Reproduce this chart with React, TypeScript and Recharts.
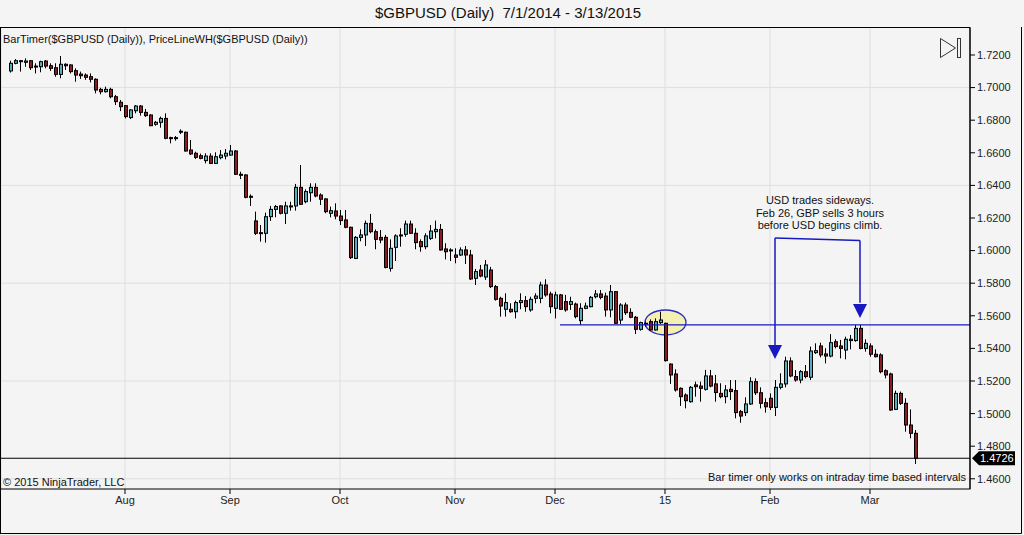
import React from "react";
import {
    ComposedChart,
    Bar,
    XAxis,
    YAxis,
    CartesianGrid,
    ReferenceLine,
    ReferenceDot
} from "recharts";

// daily GBPUSD bars, 7/1/2014 - 3/13/2015
const opens = [
    1.7102, 1.7149, 1.7165, 1.7155, 1.7165, 1.7132, 1.7128, 1.7163, 1.7134, 1.7122, 1.7081, 1.7143, 1.7139, 1.7104, 1.7083, 1.7077, 1.7067, 1.7051, 1.6989, 1.6975, 1.6989, 1.6944, 1.6910,
    1.6889, 1.6816, 1.6858, 1.6887, 1.6848, 1.6832, 1.6775, 1.6787, 1.6811, 1.6693, 1.6689, 1.6730, 1.6726, 1.6617, 1.6597, 1.6582, 1.6552, 1.6580, 1.6535, 1.6570, 1.6580,
    1.6586, 1.6611, 1.6468, 1.6464, 1.6333, 1.6182, 1.6110, 1.6106, 1.6208, 1.6253, 1.6274, 1.6229, 1.6274, 1.6274, 1.6388, 1.6300, 1.6355, 1.6388, 1.6341, 1.6317, 1.6229, 1.6243,
    1.6212, 1.6188, 1.6143, 1.5952, 1.6081, 1.6096, 1.6167, 1.6116, 1.6081, 1.6081, 1.5891, 1.6020, 1.6096, 1.6100, 1.6163, 1.6106, 1.6055, 1.6024, 1.6075, 1.6116, 1.6130, 1.6010, 1.6004,
    1.5973, 1.5973, 1.6004, 1.5973, 1.5830, 1.5881, 1.5838, 1.5881, 1.5779, 1.5707, 1.5640, 1.5640, 1.5625, 1.5681, 1.5693, 1.5636, 1.5707, 1.5707, 1.5789, 1.5734,
    1.5646, 1.5728, 1.5687, 1.5670, 1.5672, 1.5570, 1.5646, 1.5656, 1.5717, 1.5734, 1.5721, 1.5636, 1.5748, 1.5574, 1.5666, 1.5621, 1.5591, 1.5517, 1.5554, 1.5564, 1.5513, 1.5558,
    1.5554, 1.5304, 1.5243, 1.5155, 1.5114, 1.5073, 1.5176, 1.5169, 1.5149, 1.5231, 1.5182, 1.5124, 1.5104, 1.5149, 1.5141, 1.5012, 1.5006, 1.5059, 1.5196, 1.5128, 1.5067,
    1.5094, 1.5038, 1.5161, 1.5182, 1.5323, 1.5227, 1.5206, 1.5257, 1.5223, 1.5374, 1.5415, 1.5366, 1.5353, 1.5441, 1.5415, 1.5390, 1.5448, 1.5448, 1.5523, 1.5400,
    1.5415, 1.5364, 1.5360, 1.5263, 1.5243, 1.5026, 1.5124, 1.5063, 1.4930, 1.4879
];
const highs = [
    1.7165, 1.7175, 1.7169, 1.7179, 1.7169, 1.7149, 1.7165, 1.7169, 1.7149, 1.7149, 1.7194, 1.7149, 1.7143, 1.7118, 1.7098, 1.7087, 1.7087, 1.7057, 1.6999, 1.7006, 1.6999, 1.6955, 1.6924,
    1.6893, 1.6867, 1.6893, 1.6893, 1.6869, 1.6836, 1.6795, 1.6822, 1.6842, 1.6699, 1.6703, 1.6744, 1.6730, 1.6679, 1.6607, 1.6595, 1.6597, 1.6597, 1.6603, 1.6617, 1.6623,
    1.6648, 1.6617, 1.6484, 1.6468, 1.6345, 1.6239, 1.6157, 1.6233, 1.6274, 1.6280, 1.6278, 1.6300, 1.6300, 1.6409, 1.6525, 1.6376, 1.6413, 1.6413, 1.6351, 1.6321, 1.6270, 1.6290,
    1.6249, 1.6249, 1.6147, 1.6089, 1.6131, 1.6184, 1.6225, 1.6130, 1.6126, 1.6096, 1.6069, 1.6100, 1.6137, 1.6184, 1.6184, 1.6137, 1.6069, 1.6106, 1.6157, 1.6184, 1.6163, 1.6045, 1.6014,
    1.6014, 1.6020, 1.6028, 1.6004, 1.5887, 1.5912, 1.5942, 1.5900, 1.5789, 1.5717, 1.5738, 1.5677, 1.5693, 1.5738, 1.5721, 1.5717, 1.5738, 1.5809, 1.5824, 1.5748,
    1.5748, 1.5734, 1.5728, 1.5717, 1.5681, 1.5677, 1.5681, 1.5721, 1.5758, 1.5758, 1.5742, 1.5789, 1.5752, 1.5677, 1.5681, 1.5646, 1.5599, 1.5564, 1.5564, 1.5578, 1.5584, 1.5625,
    1.5558, 1.5308, 1.5272, 1.5161, 1.5124, 1.5169, 1.5196, 1.5196, 1.5268, 1.5268, 1.5237, 1.5186, 1.5175, 1.5206, 1.5206, 1.5022, 1.5100, 1.5223, 1.5216, 1.5161, 1.5094,
    1.5124, 1.5206, 1.5247, 1.5349, 1.5345, 1.5267, 1.5267, 1.5298, 1.5411, 1.5431, 1.5435, 1.5401, 1.5488, 1.5456, 1.5452, 1.5472, 1.5482, 1.5544, 1.5544, 1.5456,
    1.5431, 1.5394, 1.5370, 1.5272, 1.5251, 1.5141, 1.5135, 1.5094, 1.5026, 1.4899
];
const lows = [
    1.7092, 1.7143, 1.7098, 1.7128, 1.7108, 1.7087, 1.7094, 1.7118, 1.7102, 1.7067, 1.7057, 1.7108, 1.7087, 1.7036, 1.7053, 1.7047, 1.7032, 1.6965, 1.6959, 1.6969, 1.6934, 1.6893, 1.6856,
    1.6811, 1.6807, 1.6842, 1.6828, 1.6820, 1.6764, 1.6766, 1.6754, 1.6683, 1.6658, 1.6674, 1.6715, 1.6607, 1.6586, 1.6562, 1.6560, 1.6535, 1.6531, 1.6531, 1.6560, 1.6560,
    1.6582, 1.6464, 1.6439, 1.6321, 1.6274, 1.6096, 1.6055, 1.6049, 1.6182, 1.6204, 1.6222, 1.6163, 1.6245, 1.6245, 1.6280, 1.6290, 1.6300, 1.6327, 1.6280, 1.6229, 1.6204, 1.6192,
    1.6157, 1.6137, 1.5948, 1.5948, 1.6057, 1.6028, 1.6106, 1.6008, 1.6045, 1.5891, 1.5871, 1.5936, 1.6024, 1.6085, 1.6102, 1.6008, 1.5993, 1.6008, 1.6065, 1.6075, 1.6000, 1.5946, 1.5936,
    1.5922, 1.5967, 1.5918, 1.5820, 1.5789, 1.5836, 1.5820, 1.5770, 1.5693, 1.5595, 1.5595, 1.5619, 1.5584, 1.5640, 1.5625, 1.5625, 1.5677, 1.5677, 1.5717, 1.5615,
    1.5584, 1.5636, 1.5625, 1.5636, 1.5584, 1.5544, 1.5640, 1.5652, 1.5707, 1.5701, 1.5595, 1.5591, 1.5550, 1.5550, 1.5605, 1.5585, 1.5488, 1.5509, 1.5533, 1.5509, 1.5509, 1.5550,
    1.5319, 1.5182, 1.5135, 1.5047, 1.5032, 1.5067, 1.5104, 1.5073, 1.5141, 1.5161, 1.5073, 1.5094, 1.5063, 1.5083, 1.4971, 1.4944, 1.4985, 1.5053, 1.5114, 1.5032, 1.5006,
    1.5022, 1.4985, 1.5149, 1.5161, 1.5223, 1.5196, 1.5186, 1.5216, 1.5206, 1.5366, 1.5345, 1.5308, 1.5345, 1.5400, 1.5339, 1.5333, 1.5394, 1.5441, 1.5394, 1.5380,
    1.5349, 1.5345, 1.5247, 1.5216, 1.5018, 1.5022, 1.5053, 1.4889, 1.4848, 1.4691
];
const closes = [
    1.7149, 1.7165, 1.7159, 1.7163, 1.7122, 1.7126, 1.7159, 1.7132, 1.7118, 1.7081, 1.7143, 1.7134, 1.7098, 1.7077, 1.7073, 1.7063, 1.7051, 1.6985, 1.6975, 1.6989, 1.6944, 1.6914, 1.6883,
    1.6822, 1.6863, 1.6887, 1.6848, 1.6828, 1.6766, 1.6787, 1.6811, 1.6689, 1.6689, 1.6693, 1.6732, 1.6611, 1.6593, 1.6572, 1.6566, 1.6580, 1.6535, 1.6576, 1.6586, 1.6597,
    1.6611, 1.6468, 1.6464, 1.6327, 1.6327, 1.6106, 1.6106, 1.6208, 1.6253, 1.6270, 1.6229, 1.6274, 1.6270, 1.6388, 1.6284, 1.6362, 1.6388, 1.6335, 1.6315, 1.6239, 1.6245, 1.6212,
    1.6184, 1.6143, 1.5957, 1.6081, 1.6096, 1.6167, 1.6116, 1.6069, 1.6065, 1.5897, 1.6014, 1.6090, 1.6092, 1.6163, 1.6106, 1.6049, 1.6024, 1.6090, 1.6120, 1.6130, 1.6004, 1.5993, 1.6000,
    1.5959, 1.6004, 1.5973, 1.5826, 1.5871, 1.5844, 1.5912, 1.5779, 1.5701, 1.5660, 1.5681, 1.5625, 1.5681, 1.5693, 1.5656, 1.5701, 1.5721, 1.5789, 1.5728, 1.5656,
    1.5728, 1.5640, 1.5636, 1.5687, 1.5595, 1.5646, 1.5660, 1.5713, 1.5734, 1.5713, 1.5636, 1.5748, 1.5554, 1.5666, 1.5619, 1.5591, 1.5517, 1.5558, 1.5550, 1.5513, 1.5564, 1.5574,
    1.5325, 1.5237, 1.5145, 1.5104, 1.5079, 1.5161, 1.5165, 1.5155, 1.5231, 1.5169, 1.5129, 1.5104, 1.5145, 1.5135, 1.5006, 1.4985, 1.5059, 1.5196, 1.5128, 1.5063, 1.5042,
    1.5038, 1.5161, 1.5182, 1.5323, 1.5231, 1.5206, 1.5257, 1.5227, 1.5384, 1.5386, 1.5360, 1.5353, 1.5435, 1.5411, 1.5400, 1.5456, 1.5456, 1.5523, 1.5400, 1.5431,
    1.5364, 1.5349, 1.5257, 1.5237, 1.5022, 1.5124, 1.5063, 1.4930, 1.4879, 1.4726
];

// bar index of the first session of each month
const monthTicks = [23, 44, 66, 89, 109, 131, 152, 172];
const monthLabels = ["Aug", "Sep", "Oct", "Nov", "Dec", "15", "Feb", "Mar"];
const priceTicks = [1.46, 1.48, 1.50, 1.52, 1.54, 1.56, 1.58, 1.60, 1.62, 1.64, 1.66, 1.68, 1.70, 1.72];
const gridPrices = [1.46, 1.52, 1.58, 1.64, 1.70];

const priceLevel = 1.5544; // drawn support line
const lastPrice = closes[closes.length - 1];

const UP = "#55adbd";
const DOWN = "#8c1c22";
const BLUE = "#1818c0";
const FONT = '"Liberation Sans", Arial, sans-serif';

const X_DOMAIN: [number, number] = [-1.8, 192];
const Y_DOMAIN: [number, number] = [1.45374, 1.73656];

const data = opens.map((o, i) => ({
    i: i,
    o: o,
    h: highs[i],
    l: lows[i],
    c: closes[i],
    range: [lows[i], highs[i]]
}));

function Candle(props: any) {
    const { x, y, width, height, payload } = props;
    if (!payload || height == null) return null;
    const { o, h, l, c } = payload;
    const cx = Math.round(x + width / 2) + 0.5;
    const k = h === l ? 0 : height / (h - l);
    const top = y + (h - Math.max(o, c)) * k;
    const bot = y + (h - Math.min(o, c)) * k;
    return (
        <g>
            <line x1={cx} x2={cx} y1={y} y2={y + height} stroke="#000" strokeWidth={1} />
            <rect
                x={cx - 1}
                y={top}
                width={3}
                height={Math.max(bot - top, 1)}
                fill={c >= o ? UP : DOWN}
                stroke="#000"
                strokeWidth={1}
            />
        </g>
    );
}

const Arrow = (props: any) => (
    <polygon
        points={`${props.cx - 7},${props.cy - 14} ${props.cx + 7},${props.cy - 14} ${props.cx},${props.cy}`}
        fill={BLUE}
    />
);

const Circle = (props: any) => (
    <ellipse cx={props.cx} cy={props.cy} rx={20.5} ry={12.5} fill="#f4efa0" fillOpacity={0.8} stroke="#2a2ac8" strokeWidth={1.3} />
);

const PriceTag = (props: any) => {
    const x = props.cx + 2;
    const y = props.cy;
    return (
        <g>
            <polygon
                points={`${x},${y} ${x + 7},${y - 7} ${x + 43},${y - 7} ${x + 43},${y + 7} ${x + 7},${y + 7}`}
                fill="#000"
            />
            <text x={x + 8} y={y + 4} fill="#fff" fontSize={11} fontFamily={FONT}>
                {lastPrice.toFixed(4)}
            </text>
        </g>
    );
};

const textStyle: React.CSSProperties = {
    position: "absolute",
    fontFamily: FONT,
    fontSize: 11,
    color: "#111",
    whiteSpace: "pre"
};

export default function App() {
    return (
        <div style={{ position: "absolute", left: 0, top: 0, width: 1024, height: 535, background: "#f4f4f4", overflow: "hidden" }}>
            <ComposedChart
                width={1024}
                height={535}
                data={data}
                margin={{ top: 28, right: 0, bottom: 0, left: 1 }}
            >
                <CartesianGrid stroke="#dedede" horizontalValues={gridPrices} />
                <XAxis
                    dataKey="i"
                    type="number"
                    domain={X_DOMAIN}
                    allowDataOverflow
                    ticks={monthTicks}
                    tickFormatter={(v: number) => monthLabels[monthTicks.indexOf(v)] || ""}
                    height={46}
                    tickSize={5}
                    axisLine={false}
                    tickLine={{ stroke: "#000" }}
                    tick={{ fill: "#222", fontSize: 11, fontFamily: FONT }}
                />
                <YAxis
                    orientation="right"
                    width={54}
                    type="number"
                    domain={Y_DOMAIN}
                    allowDataOverflow
                    ticks={priceTicks}
                    tickFormatter={(v: number) => v.toFixed(4)}
                    tickSize={5}
                    axisLine={{ stroke: "#000" }}
                    tickLine={{ stroke: "#000" }}
                    tick={{ fill: "#222", fontSize: 11, fontFamily: FONT, textAnchor: "start" }}
                />
                <ReferenceDot x={131.1} y={1.5559} shape={Circle} ifOverflow="visible" zIndex={50} />
                <ReferenceLine segment={[{ x: 110, y: priceLevel }, { x: 192, y: priceLevel }]} stroke={BLUE} strokeWidth={1.2} ifOverflow="visible" />
                <ReferenceLine y={lastPrice} stroke="#000" strokeWidth={1} />
                <ReferenceLine segment={[{ x: 153, y: 1.6077 }, { x: 170, y: 1.6062 }]} stroke={BLUE} strokeWidth={1.5} ifOverflow="visible" />
                <ReferenceLine segment={[{ x: 153, y: 1.6077 }, { x: 153, y: 1.5420 }]} stroke={BLUE} strokeWidth={1.5} ifOverflow="visible" />
                <ReferenceLine segment={[{ x: 170, y: 1.6062 }, { x: 170, y: 1.5680 }]} stroke={BLUE} strokeWidth={1.5} ifOverflow="visible" />
                <ReferenceDot x={153} y={1.5335} shape={Arrow} ifOverflow="visible" />
                <ReferenceDot x={170} y={1.5587} shape={Arrow} ifOverflow="visible" />
                <Bar dataKey="range" barSize={5} shape={Candle} isAnimationActive={false} />
                <ReferenceDot x={X_DOMAIN[1]} y={lastPrice} shape={PriceTag} ifOverflow="visible" />
            </ComposedChart>

            <svg width={1024} height={535} style={{ position: "absolute", left: 0, top: 0, pointerEvents: "none" }}>
                <rect x={0.5} y={27.5} width={969.5} height={461.5} fill="none" stroke="#000" />
                <line x1={0.5} x2={0.5} y1={489} y2={533.5} stroke="#000" />
                <line x1={0} x2={1021.5} y1={533.5} y2={533.5} stroke="#000" />
                <line x1={1021.5} x2={1021.5} y1={27} y2={533.5} stroke="#000" />
                <polygon points="940.5,38.5 955.5,48 940.5,57.5" fill="none" stroke="#333" />
                <rect x={957.5} y={38.5} width={3} height={19} fill="none" stroke="#333" />
            </svg>

            <div style={{ ...textStyle, left: 0, width: 1016, top: 4, fontSize: 15, textAlign: "center" }}>
                {"$GBPUSD (Daily)  7/1/2014 - 3/13/2015"}
            </div>
            <div style={{ ...textStyle, left: 3, top: 33 }}>
                BarTimer($GBPUSD (Daily)), PriceLineWH($GBPUSD (Daily))
            </div>
            <div style={{ ...textStyle, left: 3, top: 476 }}>© 2015 NinjaTrader, LLC</div>
            <div style={{ ...textStyle, left: 560, width: 406, top: 471, textAlign: "right" }}>
                Bar timer only works on intraday time based intervals
            </div>
            <div style={{ ...textStyle, left: 720, width: 200, top: 194, textAlign: "center", lineHeight: "12.5px" }}>
                {"USD trades sideways.\nFeb 26, GBP sells 3 hours\nbefore USD begins climb."}
            </div>
        </div>
    );
}
